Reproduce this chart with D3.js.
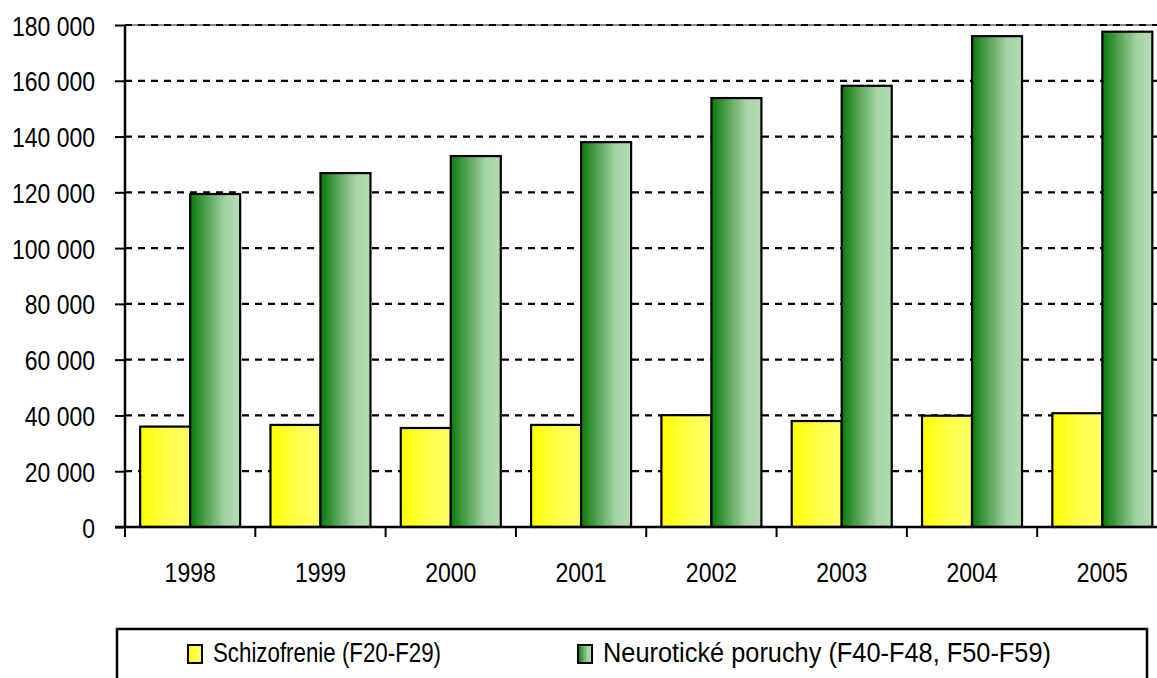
<!DOCTYPE html>
<html>
<head>
<meta charset="utf-8">
<script src="https://cdn.jsdelivr.net/npm/d3@7"></script>
<style>
  html, body { margin: 0; padding: 0; background: #fff; }
  svg { display: block; }
  text { font-family: "Liberation Sans", Arial, sans-serif; fill: #000; }
</style>
</head>
<body>
<svg id="chart" width="1157" height="678"></svg>
<script>
const years = ["1998", "1999", "2000", "2001", "2002", "2003", "2004", "2005"];
const schizofrenie = [36000, 36600, 35500, 36600, 40100, 38000, 39900, 40800];
const neuroticke = [119400, 126900, 133000, 138000, 153800, 158200, 176000, 177600];
const yTicks = [0, 20000, 40000, 60000, 80000, 100000, 120000, 140000, 160000, 180000];
const seriesNames = ["Schizofrenie (F20-F29)", "Neurotické poruchy (F40-F48, F50-F59)"];

(function () {
const svg = d3.select("#chart");
const defs = svg.append("defs");

// emulate a narrow typeface by condensing glyphs horizontally
function narrow(sel) {
  sel.each(function () {
    const w = this.getComputedTextLength();
    this.setAttribute("textLength", (w * 0.82).toFixed(2));
    this.setAttribute("lengthAdjust", "spacingAndGlyphs");
  });
}

const gy = defs.append("linearGradient").attr("id", "gYellow").attr("x1", "0").attr("x2", "1").attr("y1", "0").attr("y2", "0");
gy.append("stop").attr("offset", "0%").attr("stop-color", "#ffff00");
gy.append("stop").attr("offset", "55%").attr("stop-color", "#ffff4d");
gy.append("stop").attr("offset", "100%").attr("stop-color", "#ffff66");

const gg = defs.append("linearGradient").attr("id", "gGreen").attr("x1", "0").attr("x2", "1").attr("y1", "0").attr("y2", "0");
gg.append("stop").attr("offset", "0%").attr("stop-color", "#0a7a0a");
gg.append("stop").attr("offset", "35%").attr("stop-color", "#5aa65a");
gg.append("stop").attr("offset", "70%").attr("stop-color", "#a6d3a6");
gg.append("stop").attr("offset", "100%").attr("stop-color", "#b4dcb4");

const pLeft = 125, pRight = 1167.5, pTop = 25, pBottom = 527;

const x = d3.scaleBand().domain(years).range([pLeft, pRight]).paddingInner(0).paddingOuter(0);
const x1 = d3.scaleBand().domain([0, 1]).range([0, x.bandwidth()]).paddingInner(0).paddingOuter(0.303);
const y = d3.scaleLinear().domain([0, 180000]).range([pBottom, pTop]);

// plot top border
svg.append("line").attr("x1", pLeft).attr("x2", pRight).attr("y1", pTop).attr("y2", pTop)
  .attr("stroke", "#666").attr("stroke-width", 1.5);

// gridlines
svg.append("g").selectAll("line").data(yTicks.filter(d => d > 0)).join("line")
  .attr("x1", pLeft).attr("x2", pRight)
  .attr("y1", d => y(d)).attr("y2", d => y(d))
  .attr("stroke", "#000").attr("stroke-width", 2.2).attr("stroke-dasharray", "7,6");

// bars
const fills = ["url(#gYellow)", "url(#gGreen)"];
const seriesData = [schizofrenie, neuroticke];
const groups = svg.append("g").selectAll("g").data(years).join("g")
  .attr("transform", d => `translate(${x(d)},0)`);
groups.selectAll("rect").data((d, i) => [0, 1].map(s => ({ s, v: seriesData[s][i] }))).join("rect")
  .attr("x", d => x1(d.s))
  .attr("width", x1.bandwidth())
  .attr("y", d => y(d.v))
  .attr("height", d => y(0) - y(d.v))
  .attr("fill", d => fills[d.s])
  .attr("stroke", "#000").attr("stroke-width", 2.2);

// y axis
const yAxis = d3.axisLeft(y).tickValues(yTicks).tickSize(10).tickPadding(20)
  .tickFormat(d => d3.format(",")(d).replace(/,/g, " "));
const ya = svg.append("g").attr("transform", `translate(${pLeft},0)`).call(yAxis);
ya.attr("font-family", null).attr("font-size", null);
ya.select(".domain").attr("stroke", "#000").attr("stroke-width", 2.5).attr("d", `M0,${pTop}V${pBottom}`);
ya.selectAll(".tick line").attr("stroke", "#000").attr("stroke-width", 2);
ya.selectAll(".tick text").style("font-size", "28px").attr("fill", "#000").attr("dy", "0.36em").call(narrow);

// x axis
const xAxis = d3.axisBottom(x).tickSize(0);
const xa = svg.append("g").attr("transform", `translate(0,${pBottom})`).call(xAxis);
xa.attr("font-family", null).attr("font-size", null);
xa.select(".domain").remove();
xa.selectAll(".tick text").style("font-size", "28px").attr("fill", "#000").attr("y", 55).attr("dy", 0).call(narrow);
svg.append("line").attr("x1", pLeft - 10).attr("x2", pRight).attr("y1", pBottom).attr("y2", pBottom)
  .attr("stroke", "#000").attr("stroke-width", 2.5);
svg.append("g").selectAll("line").data(years).join("line")
  .attr("x1", d => x(d)).attr("x2", d => x(d))
  .attr("y1", pBottom).attr("y2", pBottom + 10)
  .attr("stroke", "#000").attr("stroke-width", 2);

// legend
svg.append("rect").attr("x", 117).attr("y", 629).attr("width", 1030).attr("height", 60)
  .attr("fill", "#fff").attr("stroke", "#000").attr("stroke-width", 2.5);
const legendX = [188, 578];
const legendTextW = [228, 448];
const lg = svg.append("g").selectAll("g").data(seriesNames).join("g")
  .attr("transform", (d, i) => `translate(${legendX[i]},645)`);
lg.append("rect").attr("width", 14).attr("height", 18)
  .attr("fill", (d, i) => fills[i]).attr("stroke", "#000").attr("stroke-width", 2);
lg.append("text").attr("x", 25).attr("y", 17).style("font-size", "27px").text(d => d)
  .attr("textLength", (d, i) => legendTextW[i]).attr("lengthAdjust", "spacingAndGlyphs");
})();
</script>
</body>
</html>
